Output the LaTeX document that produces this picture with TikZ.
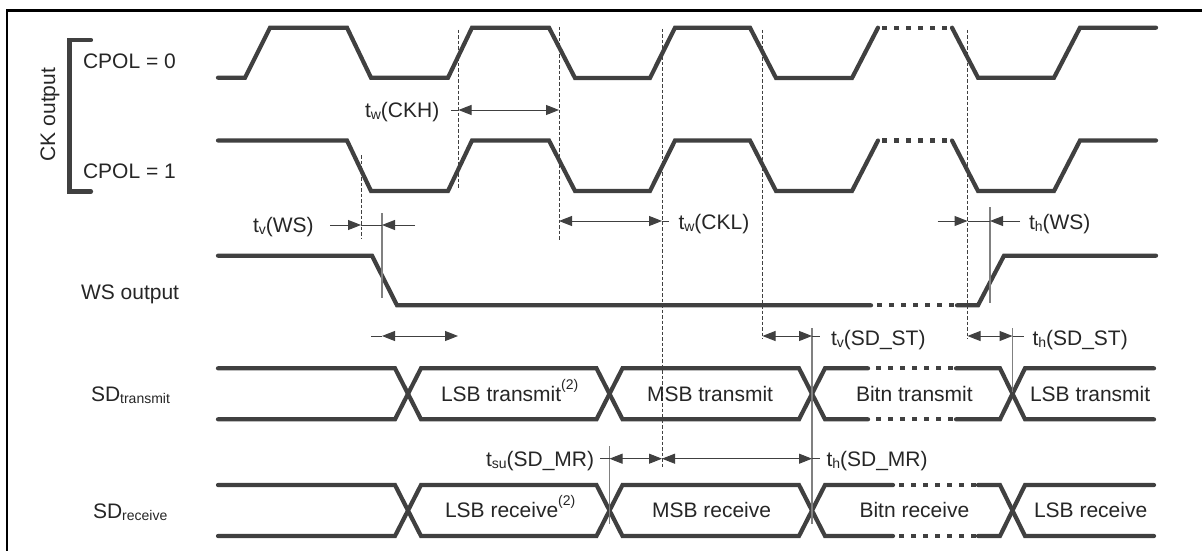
\documentclass[tikz,border=0pt]{standalone}
\usepackage{fontspec}
\setmainfont{Liberation Sans}
\usetikzlibrary{arrows.meta}
\newcommand{\lo}[1]{\raisebox{-0.25ex}{\fontsize{14}{14}\selectfont #1}}
\newcommand{\hi}[1]{\raisebox{1.05ex}{\fontsize{14}{14}\selectfont #1}}
\tikzset{
  x=1pt,y=-1pt,
  wave/.style={draw=wavec,line width=4.2pt,line join=miter,line cap=round},
  dots/.style={draw=wavec,line width=4.2pt,dash pattern=on 5pt off 7pt},
  guide/.style={draw=guidec,line width=0.8pt,dash pattern=on 3.5pt off 2pt},
  mark line/.style={draw=thinc,line width=1.1pt},
  dim/.style={draw=dimc,line width=1pt},
  dimtip/.style={dim,-{Triangle[length=13pt,width=10pt]}},
  dimboth/.style={dim,{Triangle[length=13pt,width=10pt]}-{Triangle[length=13pt,width=10pt]}},
  txt/.style={anchor=base west,inner sep=0pt,outer sep=0pt,text=textc,font=\fontsize{21}{21}\selectfont}
}
\definecolor{wavec}{HTML}{404040}
\definecolor{guidec}{HTML}{404040}
\definecolor{thinc}{HTML}{808080}
\definecolor{dimc}{HTML}{404040}
\definecolor{textc}{HTML}{262626}
\begin{document}
\begin{tikzpicture}
\useasboundingbox (0,0) rectangle (1202,551);
\fill[white] (0,0) rectangle (1202,551);
\draw[black,line width=2.4pt] (7,551) -- (7,10.5) -- (1202,10.5);
% bracket
\draw[wave,line cap=round] (91,40) -- (69.5,40) -- (69.5,191.5) -- (91,191.5);
% CPOL 0
\draw[wave] (218,77.7) -- (245,77.7) -- (270,27.7) -- (347,27.7) -- (371,77.7) -- (448,77.7) -- (472,27.7) -- (549,27.7) -- (575,78) -- (650,78) -- (675,27.7) -- (750,27.7) -- (776,78) -- (852,78) -- (878,27.7);
\draw[dots] (882,27.7) -- (952,27.7);
\draw[wave] (952,27.7) -- (978,77.7) -- (1054,77.7) -- (1080,27.7) -- (1156,27.7);
% CPOL 1
\draw[wave] (218,140.5) -- (347,140.5) -- (371,191) -- (448,191) -- (472,140.5) -- (549,140.5) -- (575,191) -- (650,191) -- (675,140.5) -- (750,140.5) -- (776,191) -- (852,191) -- (878,140.5);
\draw[dots] (882,140.5) -- (952,140.5);
\draw[wave] (952,140.5) -- (978,191) -- (1054,191) -- (1080,140.5) -- (1156,140.5);
% WS
\draw[wave] (218,255.7) -- (372,255.7) -- (397,305.3) -- (871,305.3);
\draw[dots] (877,305.3) -- (956,305.3);
\draw[wave] (957,305.3) -- (978,305.3) -- (1004,255.7) -- (1156,255.7);
% SD transmit
\draw[wave] (218,368.3) -- (395,368.3) -- (421,419.3) -- (596.5,419.3) -- (622.5,368.3) -- (799,368.3) -- (825,419.3) -- (868,419.3);
\draw[wave] (218,419.3) -- (395,419.3) -- (421,368.3) -- (596.5,368.3) -- (622.5,419.3) -- (799,419.3) -- (825,368.3) -- (868,368.3);
\draw[dots] (876,368.3) -- (956,368.3);
\draw[dots] (876,419.3) -- (954,419.3);
\draw[wave] (956,368.3) -- (1000,368.3) -- (1025,419.3) -- (1154,419.3);
\draw[wave] (956,419.3) -- (1000,419.3) -- (1025,368.3) -- (1154,368.3);
% SD receive
\draw[wave] (218,485) -- (395,485) -- (421,536) -- (596.5,536) -- (622.5,485) -- (799,485) -- (825,536) -- (893,536);
\draw[wave] (218,536) -- (395,536) -- (421,485) -- (596.5,485) -- (622.5,536) -- (799,536) -- (825,485) -- (893,485);
\draw[dots] (899,485) -- (977,485);
\draw[dots] (899,536) -- (977,536);
\draw[wave] (978,485) -- (1000,485) -- (1025,536) -- (1154,536);
\draw[wave] (978,536) -- (1000,536) -- (1025,485) -- (1154,485);
% guides
\draw[guide] (458.5,30) -- (458.5,189);
\draw[guide] (559,27) -- (559,240);
\draw[guide] (361,155) -- (361,239);
\draw[guide] (662,29) -- (662,467);
\draw[guide] (762.5,30) -- (762.5,339);
\draw[guide] (967.5,30) -- (967.5,339);
% solid marks
\draw[mark line] (382,213) -- (382,298);
\draw[mark line] (990,207) -- (990,303);
\draw[mark line] (812,328) -- (812,524);
\draw[mark line] (1012.5,328) -- (1012.5,392);
\draw[mark line] (609.5,446) -- (609.5,524);
% named points for dimension arrows
\coordinate (ckhS) at (451,110); \coordinate (ckhA) at (458.5,110); \coordinate (ckhB) at (559,110);
\draw[dim] (ckhS) -- (ckhA); \draw[dimboth] (ckhA) -- (ckhB);
\coordinate (wsS) at (330,225); \coordinate (wsA) at (361,225); \coordinate (wsB) at (382,225); \coordinate (wsE) at (415,225);
\draw[dimtip] (wsS) -- (wsA); \draw[dim] (wsA) -- (wsB); \draw[dimtip] (wsE) -- (wsB);
\coordinate (cklA) at (559,221); \coordinate (cklB) at (662,221); \coordinate (cklE) at (669,221);
\draw[dimboth] (cklA) -- (cklB); \draw[dim] (cklB) -- (cklE);
\coordinate (thS) at (937.5,221); \coordinate (thA) at (967.5,221); \coordinate (thB) at (990,221); \coordinate (thE) at (1020,221);
\draw[dimtip] (thS) -- (thA); \draw[dim] (thA) -- (thB); \draw[dimtip] (thE) -- (thB);
\coordinate (uS) at (371,336); \coordinate (uA) at (382,336); \coordinate (uB) at (458,336);
\draw[dim] (uS) -- (uA); \draw[dimboth] (uA) -- (uB);
\coordinate (vstA) at (762.5,336); \coordinate (vstB) at (812,336); \coordinate (vstE) at (820,336);
\draw[dimboth] (vstA) -- (vstB); \draw[dim] (vstB) -- (vstE);
\coordinate (hstA) at (967.5,336); \coordinate (hstB) at (1012.5,336); \coordinate (hstE) at (1023.5,336);
\draw[dimboth] (hstA) -- (hstB); \draw[dim] (hstB) -- (hstE);
\coordinate (suS) at (600,458.7); \coordinate (suA) at (609.5,458.7); \coordinate (suB) at (662,458.7); \coordinate (hmB) at (812,458.7); \coordinate (hmE) at (820,458.7);
\draw[dim] (suS) -- (suA); \draw[dimboth] (suA) -- (suB);
\draw[dimboth] (suB) -- (hmB); \draw[dim] (hmB) -- (hmE);
% texts
\node[txt] (cpolz) at (83,68) {CPOL = 0};
\node[txt] (cpolo) at (83,178) {CPOL = 1};
\node[txt,anchor=base,rotate=90] (ck) at (55,114.5) {CK output};
\node[txt] (lckh) at (365,117) {t\lo{w}(CKH)};
\node[txt] (lws) at (253,232) {t\lo{v}(WS)};
\node[txt] (lckl) at (678.5,229) {t\lo{w}(CKL)};
\node[txt] (lhws) at (1029,229) {t\lo{h}(WS)};
\node[txt] (wso) at (81,299) {WS output};
\node[txt] (sdt) at (91,401) {SD\lo{transmit}};
\node[txt] (sdr) at (93,518) {SD\lo{receive}};
\node[txt] (t1) at (441,401) {LSB transmit\hi{(2)}};
\node[txt] (r1) at (445,517) {LSB receive\hi{(2)}};
\node[txt] (t2) at (647,401) {MSB transmit};
\node[txt] (t3) at (856,401) {Bitn transmit};
\node[txt] (t4) at (1030,401) {LSB transmit};
\node[txt] (r2) at (652,517) {MSB receive};
\node[txt] (r3) at (859.5,517) {Bitn receive};
\node[txt] (r4) at (1034,517) {LSB receive};
\node[txt] (lvst) at (831,345) {t\lo{v}(SD\_ST)};
\node[txt] (lhst) at (1032.5,345) {t\lo{h}(SD\_ST)};
\node[txt] (lsu) at (486,466) {t\lo{su}(SD\_MR)};
\node[txt] (lhm) at (826.5,466) {t\lo{h}(SD\_MR)};
\end{tikzpicture}
\end{document}
